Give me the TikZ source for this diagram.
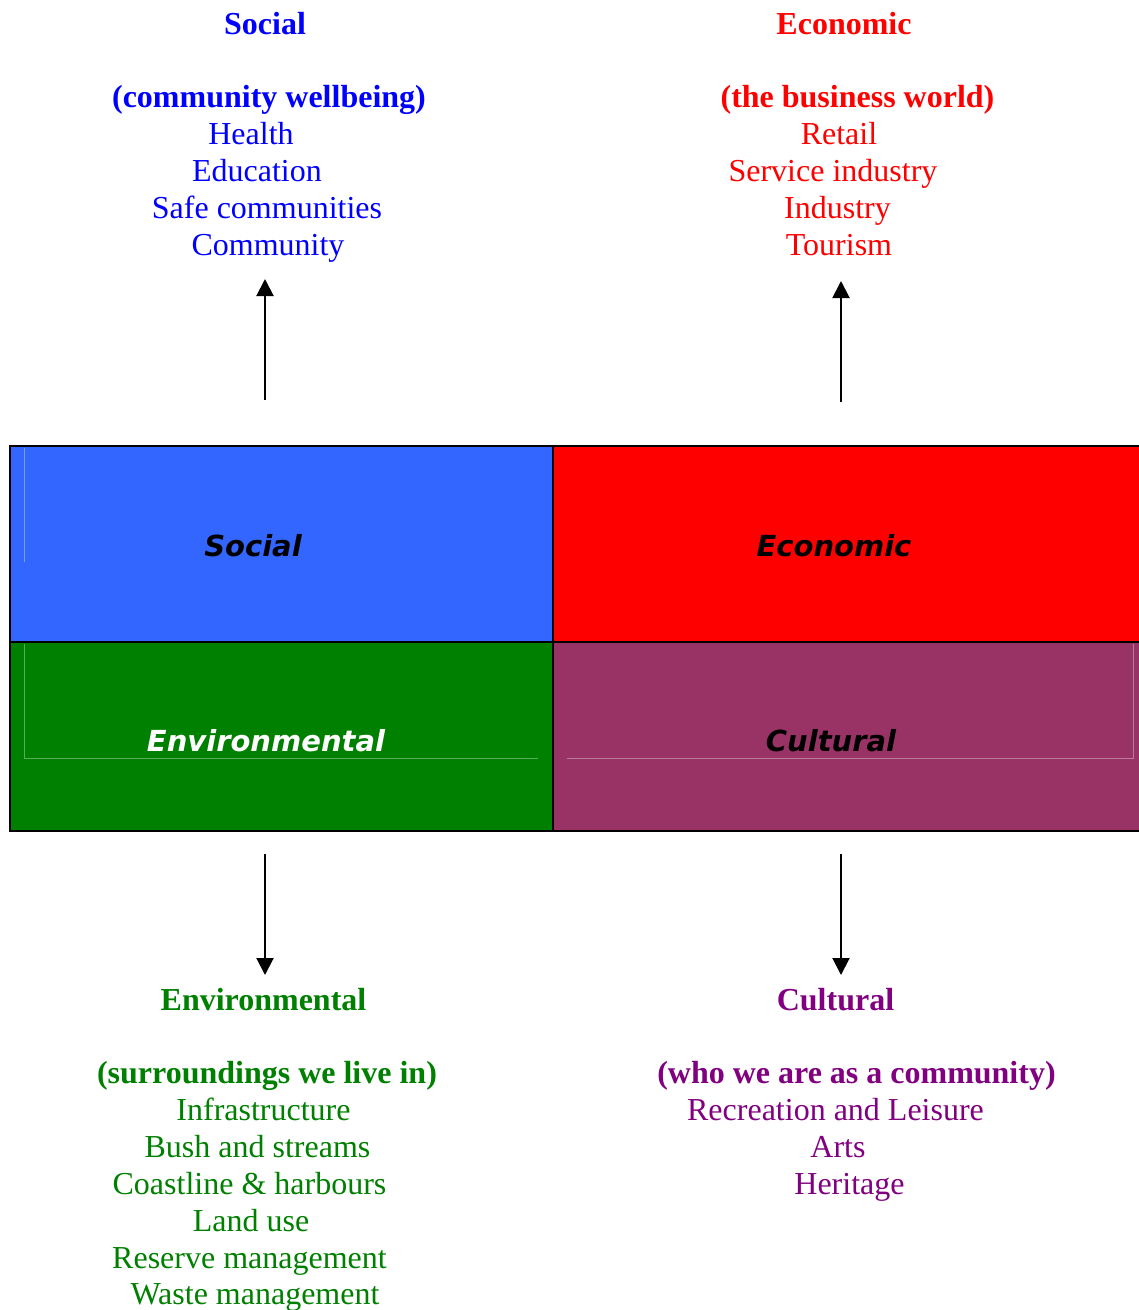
\documentclass[tikz,border=0pt]{standalone}
\usepackage{fontspec}
\setmainfont{Liberation Serif}
\newfontfamily\quadfont{DejaVu Sans}
\usetikzlibrary{arrows.meta}
\definecolor{socbox}{HTML}{3366FF}
\definecolor{ecobox}{HTML}{FF0000}
\definecolor{envbox}{HTML}{008000}
\definecolor{culbox}{HTML}{993366}
\definecolor{soctxt}{HTML}{0000FF}
\definecolor{ecotxt}{HTML}{FF0000}
\definecolor{envtxt}{HTML}{008000}
\definecolor{cultxt}{HTML}{800080}
\begin{document}
\begin{tikzpicture}[x=1pt,y=-1pt,
  txt/.style={font=\fontsize{32}{37}\selectfont, anchor=base, inner sep=0pt},
  hd/.style={font=\fontsize{32}{37}\selectfont\bfseries, anchor=base, inner sep=0pt},
  quad/.style={draw=black, line width=2pt, inner sep=0pt},
  qlabel/.style={font=\quadfont\fontsize{29}{34}\selectfont\bfseries\itshape, anchor=base, inner sep=0pt},
  faint/.style={draw=white, draw opacity=0.35, line width=1pt},
  arr/.style={line width=2pt, -{Triangle[width=17pt,length=17pt]}}]
\useasboundingbox (0,0) rectangle (1139,1310);
\clip (0,0) rectangle (1139,1310);

% quadrants
\node[quad, fill=socbox, minimum width=543pt, minimum height=196pt] (qsoc) at (281.5,544) {};
\node[quad, fill=ecobox, minimum width=592pt, minimum height=196pt] (qeco) at (849,544) {};
\node[quad, fill=envbox, minimum width=543pt, minimum height=189pt] (qenv) at (281.5,736.5) {};
\node[quad, fill=culbox, minimum width=592pt, minimum height=189pt] (qcul) at (849,736.5) {};

% faint text-box frames
\draw[faint] (24,448) -- (24,562);
\draw[faint] (24,644) -- (24,758) -- (538,758);
\draw[faint] (567,758) -- (1133,758) -- (1133,644);

% quadrant labels
\node[qlabel, text=black] (lsoc) at (253,556) {Social};
\node[qlabel, text=black] (leco) at (834,556) {Economic};
\node[qlabel, text=white] (lenv) at (266,751) {Environmental};
\node[qlabel, text=black] (lcul) at (831,751) {Cultural};

% Social column
\begin{scope}[text=soctxt]
\node[hd] (s0) at (265,34) {Social};
\node[hd] (s1) at (269,107) {(community wellbeing)};
\node[txt] (s2) at (251,144.5) {Health};
\node[txt] (s3) at (257,181) {Education};
\node[txt] (s4) at (267,218) {Safe communities};
\node[txt] (s5) at (268,255) {Community};
\end{scope}

% Economic column
\begin{scope}[text=ecotxt]
\node[hd] (e0) at (844,34) {Economic};
\node[hd] (e1) at (857.5,107) {(the business world)};
\node[txt] (e2) at (839,144.5) {Retail};
\node[txt] (e3) at (833,181) {Service industry};
\node[txt] (e4) at (837.5,218) {Industry};
\node[txt] (e5) at (839,255) {Tourism};
\end{scope}

% Environmental column
\begin{scope}[text=envtxt]
\node[hd] (n0) at (263.5,1010) {Environmental};
\node[hd] (n1) at (267,1083) {(surroundings we live in)};
\node[txt] (n2) at (263.5,1120) {Infrastructure};
\node[txt] (n3) at (257.5,1157) {Bush and streams};
\node[txt] (n4) at (249.5,1194) {Coastline \& harbours};
\node[txt] (n5) at (251,1231) {Land use};
\node[txt] (n6) at (249.5,1268) {Reserve management};
\node[txt] (n7) at (255,1304.5) {Waste management};
\end{scope}

% Cultural column
\begin{scope}[text=cultxt]
\node[hd] (c0) at (835.5,1010) {Cultural};
\node[hd] (c1) at (856.5,1083) {(who we are as a community)};
\node[txt] (c2) at (835.5,1120) {Recreation and Leisure};
\node[txt] (c3) at (838,1157) {Arts};
\node[txt] (c4) at (849.5,1194) {Heritage};
\end{scope}

% arrows
\coordinate (a1s) at (265,400);
\coordinate (a1e) at (265,279);
\coordinate (a2s) at (841,402);
\coordinate (a2e) at (841,281);
\coordinate (a3s) at (265,854);
\coordinate (a3e) at (265,975);
\coordinate (a4s) at (841,854);
\coordinate (a4e) at (841,975);
\draw[arr] (a1s) -- (a1e);
\draw[arr] (a2s) -- (a2e);
\draw[arr] (a3s) -- (a3e);
\draw[arr] (a4s) -- (a4e);
\end{tikzpicture}
\end{document}
